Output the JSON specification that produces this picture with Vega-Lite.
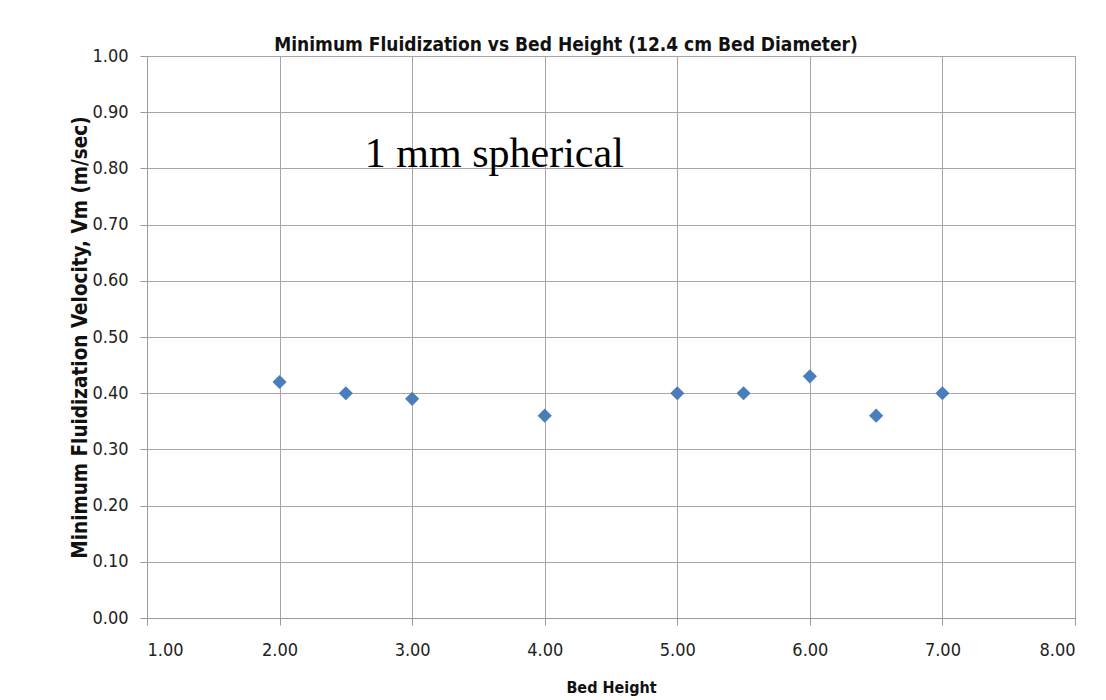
{
  "$schema": "https://vega.github.io/schema/vega-lite/v6.json",
  "width": 928,
  "height": 562,
  "autosize": {"type": "none"},
  "padding": {"left": 147, "top": 56, "right": 31, "bottom": 82},
  "background": "white",
  "title": {
    "text": "Minimum Fluidization vs Bed Height (12.4 cm Bed Diameter)",
    "anchor": "middle",
    "frame": "group",
    "dx": -45,
    "offset": -8,
    "font": "DejaVu Sans Condensed, Open Sans, sans-serif",
    "fontSize": 19,
    "fontWeight": "bold",
    "color": "#111111"
  },
  "config": {
    "view": {"stroke": "#9a9a9a", "strokeWidth": 1},
    "axis": {
      "labelFont": "DejaVu Sans Condensed, Open Sans, sans-serif",
      "labelFontSize": 18,
      "labelColor": "#222222",
      "titleFont": "DejaVu Sans Condensed, Open Sans, sans-serif",
      "titleFontSize": 16,
      "titleFontWeight": "bold",
      "titleColor": "#111111",
      "gridColor": "#a6a6a6",
      "gridWidth": 1,
      "gridOpacity": 1,
      "domainColor": "#9a9a9a",
      "tickColor": "#9a9a9a",
      "tickSize": 7
    }
  },
  "layer": [
    {
      "data": {
        "values": [
          {"bed_height": 2.0, "vm": 0.42},
          {"bed_height": 2.5, "vm": 0.40},
          {"bed_height": 3.0, "vm": 0.39},
          {"bed_height": 4.0, "vm": 0.36},
          {"bed_height": 5.0, "vm": 0.40},
          {"bed_height": 5.5, "vm": 0.40},
          {"bed_height": 6.0, "vm": 0.43},
          {"bed_height": 6.5, "vm": 0.36},
          {"bed_height": 7.0, "vm": 0.40}
        ]
      },
      "mark": {"type": "point", "shape": "diamond", "filled": true, "size": 200, "color": "#4a7ebb", "opacity": 1},
      "encoding": {
        "x": {
          "field": "bed_height",
          "type": "quantitative",
          "scale": {"domain": [1, 8], "nice": false, "zero": false},
          "axis": {"values": [1, 2, 3, 4, 5, 6, 7, 8], "format": ".2f", "title": "Bed Height", "labelPadding": 16, "titlePadding": 20}
        },
        "y": {
          "field": "vm",
          "type": "quantitative",
          "scale": {"domain": [0, 1], "nice": false},
          "axis": {"values": [0, 0.1, 0.2, 0.3, 0.4, 0.5, 0.6, 0.7, 0.8, 0.9, 1.0], "format": ".2f", "title": "Minimum Fluidization Velocity, Vm (m/sec)", "titleFontSize": 20.5, "labelPadding": 12, "titlePadding": 1}
        }
      }
    },
    {
      "data": {"values": [{"bed_height": 3.62, "vm": 0.826, "label": "1 mm spherical"}]},
      "mark": {"type": "text", "font": "Liberation Serif", "fontSize": 42, "color": "#000000", "align": "center", "baseline": "middle"},
      "encoding": {
        "x": {"field": "bed_height", "type": "quantitative"},
        "y": {"field": "vm", "type": "quantitative"},
        "text": {"field": "label"}
      }
    }
  ]
}
